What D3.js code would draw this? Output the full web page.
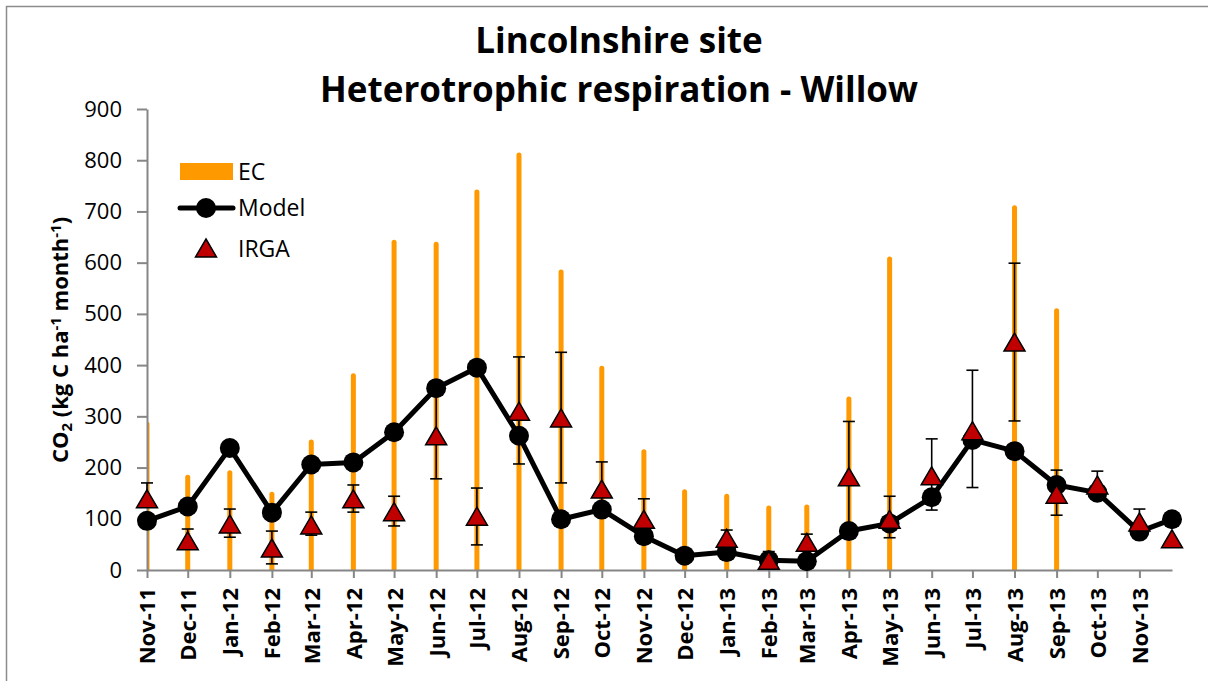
<!DOCTYPE html>
<html>
<head>
<meta charset="utf-8">
<script src="https://cdn.jsdelivr.net/npm/d3@7"></script>
<style>
body { margin: 0; background: #fff; }
text { font-family: "Open Sans", sans-serif; }
</style>
</head>
<body>
<svg id="chart" width="1208" height="681"></svg>
<script>
// monthly values, last point is late Nov-13
var months = ["2011-11-01","2011-12-01","2012-01-01","2012-02-01","2012-03-01","2012-04-01","2012-05-01",
  "2012-06-01","2012-07-01","2012-08-01","2012-09-01","2012-10-01","2012-11-01","2012-12-01","2013-01-01",
  "2013-02-01","2013-03-01","2013-04-01","2013-05-01","2013-06-01","2013-07-01","2013-08-01","2013-09-01",
  "2013-10-01","2013-11-01","2013-11-25"];
var ecValues = [285,181,190,148,250,379,640,636,738,810,582,394,231,153,144,121,123,334,607,null,null,707,506,null,null,null];
var modelValues = [96,124,238,112,206,210,269,355,395,262,99,118,66,28,35,19,17,76,91,142,254,232,166,151,75,99];
var irgaValues = [137,55,88,41,86,137,112,260,103,308,295,156,97,null,60,17,52,180,97,182,270,443,146,164,92,59];
var irgaLow = [125,44,64,12,68,113,86,178,49,207,170,110,65,null,45,5,40,70,63,117,161,291,107,140,72,null];
var irgaHigh = [170,80,119,76,113,166,144,342,160,416,425,211,139,null,78,36,70,290,144,256,390,599,195,193,119,null];
var yTicks = [0,100,200,300,400,500,600,700,800,900];

var parseDate = d3.timeParse("%Y-%m-%d");
var dates = months.map(parseDate);

var svg = d3.select("#chart");

// chart frame
svg.append("rect")
    .attr("x",6.5).attr("y",6.5).attr("width",1240).attr("height",720)
    .style("fill","none").style("stroke","#8c8c8c").style("stroke-width","1.5px");

var xScale = d3.scaleTime()
    .domain([dates[0], dates[dates.length-1]])
    .range([147, 1172]);

var yScale = d3.scaleLinear()
    .domain([0, 900])
    .range([570, 109]);

svg.append("clipPath").attr("id","plotclip")
  .append("rect").attr("x",147).attr("y",0).attr("width",1060).attr("height",570);

// EC bars
var ecData = dates.map(function(d,i){ return {date:d, v:ecValues[i]}; }).filter(function(d){ return d.v != null; });
svg.append("g").attr("clip-path","url(#plotclip)")
  .selectAll("line").data(ecData).enter()
  .append("line")
    .attr("x1", function(d){ return xScale(d.date); })
    .attr("x2", function(d){ return xScale(d.date); })
    .attr("y1", yScale(0))
    .attr("y2", function(d){ return yScale(d.v); })
    .style("stroke","#FF9900").style("stroke-width","5px").style("stroke-linecap","round");

// axes
var xAxis = d3.axisBottom(xScale)
    .tickValues(dates.slice(0,25))
    .tickFormat(d3.timeFormat("%b-%y"))
    .tickSize(8).tickSizeOuter(0);

var gx = svg.append("g")
    .attr("transform","translate(0," + yScale(0) + ")")
    .call(xAxis);
gx.select(".domain").style("stroke","#868686").style("stroke-width","2px");
gx.selectAll(".tick line").style("stroke","#868686").style("stroke-width","2px");
gx.selectAll(".tick text")
    .attr("transform","rotate(-90)")
    .attr("x",-18).attr("y",0).attr("dy","0.36em")
    .style("text-anchor","end")
    .style("font-size","22px").style("font-weight","bold").style("fill","#000");

var yAxis = d3.axisLeft(yScale)
    .tickValues(yTicks)
    .tickSize(10).tickSizeOuter(0).tickPadding(15);

var gy = svg.append("g")
    .attr("transform","translate(" + xScale(dates[0]) + ",0)")
    .call(yAxis);
gy.select(".domain").style("stroke","#868686").style("stroke-width","2px");
gy.selectAll(".tick line").style("stroke","#868686").style("stroke-width","2px");
gy.selectAll(".tick text").style("font-size","22px").style("fill","#000");

// IRGA error bars
var irgaData = dates.map(function(d,i){
  return {date:d, v:irgaValues[i], lo:irgaLow[i], hi:irgaHigh[i]};
}).filter(function(d){ return d.v != null; });
var errData = irgaData.filter(function(d){ return d.lo != null; });

var errG = svg.append("g").style("stroke","#000").style("stroke-width","1.6px");
errG.selectAll(".err").data(errData).enter()
  .append("line")
    .attr("x1", function(d){ return xScale(d.date); })
    .attr("x2", function(d){ return xScale(d.date); })
    .attr("y1", function(d){ return yScale(d.lo); })
    .attr("y2", function(d){ return yScale(d.hi); });
errG.selectAll(".capHi").data(errData).enter()
  .append("line")
    .attr("x1", function(d){ return xScale(d.date) - 6; })
    .attr("x2", function(d){ return xScale(d.date) + 6; })
    .attr("y1", function(d){ return yScale(d.hi); })
    .attr("y2", function(d){ return yScale(d.hi); });
errG.selectAll(".capLo").data(errData).enter()
  .append("line")
    .attr("x1", function(d){ return xScale(d.date) - 6; })
    .attr("x2", function(d){ return xScale(d.date) + 6; })
    .attr("y1", function(d){ return yScale(d.lo); })
    .attr("y2", function(d){ return yScale(d.lo); });

// model line + markers
var modelData = dates.map(function(d,i){ return {date:d, v:modelValues[i]}; });
var line = d3.line()
    .x(function(d){ return xScale(d.date); })
    .y(function(d){ return yScale(d.v); });

svg.append("path").datum(modelData)
    .attr("d", line)
    .style("fill","none").style("stroke","#000").style("stroke-width","5px").style("stroke-linejoin","round");

svg.append("g").selectAll("circle").data(modelData).enter()
  .append("circle")
    .attr("cx", function(d){ return xScale(d.date); })
    .attr("cy", function(d){ return yScale(d.v); })
    .attr("r", 10)
    .style("fill","#000");

// IRGA triangles
var triPath = "M0,-10L10.5,8L-10.5,8Z";
svg.append("g").selectAll("path").data(irgaData).enter()
  .append("path")
    .attr("d", triPath)
    .attr("transform", function(d){ return "translate(" + xScale(d.date) + "," + yScale(d.v) + ")"; })
    .style("fill","#C00000").style("stroke","#000").style("stroke-width","1.5px");

// title
svg.append("text").attr("x",619).attr("y",53)
    .style("text-anchor","middle").style("font-size","35px").style("font-weight","bold")
    .text("Lincolnshire site");
svg.append("text").attr("x",619).attr("y",102)
    .style("text-anchor","middle").style("font-size","35px").style("font-weight","bold")
    .text("Heterotrophic respiration - Willow");

// y axis title
var yt = svg.append("text")
    .attr("transform","translate(68,340) rotate(-90)")
    .style("text-anchor","middle").style("font-size","22px").style("font-weight","bold");
yt.append("tspan").text("CO");
yt.append("tspan").text("2").style("font-size","15px").attr("baseline-shift","-25%");
yt.append("tspan").text(" (kg C ha");
yt.append("tspan").text("-1").style("font-size","15px").attr("baseline-shift","45%");
yt.append("tspan").text(" month");
yt.append("tspan").text("-1").style("font-size","15px").attr("baseline-shift","45%");
yt.append("tspan").text(")");

// legend
var legend = svg.append("g");
legend.append("rect").attr("x",180).attr("y",163).attr("width",53).attr("height",17).style("fill","#FF9900");
legend.append("line").attr("x1",180).attr("x2",233).attr("y1",208).attr("y2",208)
    .style("stroke","#000").style("stroke-width","5px").style("stroke-linecap","round");
legend.append("circle").attr("cx",206).attr("cy",208).attr("r",10).style("fill","#000");
legend.append("path").attr("d",triPath).attr("transform","translate(206,249)")
    .style("fill","#C00000").style("stroke","#000").style("stroke-width","1.5px");
var legendLabels = ["EC","Model","IRGA"];
var legendY = [172,208,249];
legendLabels.forEach(function(t,i){
  legend.append("text").attr("x",238).attr("y",legendY[i]).attr("dy","0.35em")
    .style("font-size","23px").text(t);
});
</script>
</body>
</html>
